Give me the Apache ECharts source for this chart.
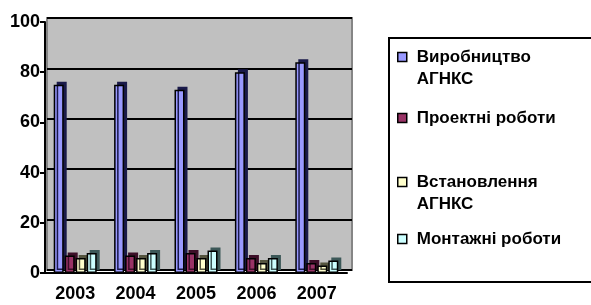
<!DOCTYPE html>
<html>
<head>
<meta charset="utf-8">
<script src="https://cdn.jsdelivr.net/npm/echarts@6/dist/echarts.min.js"></script>
<style>
  html, body { margin: 0; padding: 0; background: #fff; }
  #main { width: 591px; height: 305px; }
</style>
</head>
<body>
<div id="main"></div>
<script>
// дані з діаграми
var years = ['2003', '2004', '2005', '2006', '2007']
var vyrobnytstvo = [75, 75, 73, 80, 84]
var proektni = [7, 7, 8, 6, 4]
var vstanovlennia = [6, 6, 6, 4, 3]
var montazhni = [8, 8, 9, 6, 5]
var names = ['Виробництво АГНКС', 'Проектні роботи', 'Встановлення АГНКС', 'Монтажні роботи']

var font = 'Liberation Sans, Arial, sans-serif'
var colors = ['#9999ff', '#993366', '#ffffcc', '#ccffff']
var sides = ['#1a1a4a', '#3d0f28', '#55553f', '#3c5858']
var values = [vyrobnytstvo, proektni, vstanovlennia, montazhni]
// центри значків легенди
var legendY = [57, 118, 182, 239]

var myChart = echarts.init(document.getElementById('main'))

var legends = names.map(function (n, i) {
  var twoLines = n.indexOf(' АГНКС') > 0
  return {
    data: [n],
    left: 397,
    top: twoLines ? legendY[i] - 33 : legendY[i] - 11,
    padding: 0,
    orient: 'vertical',
    itemWidth: 9,
    itemHeight: 9,
    icon: 'rect',
    selectedMode: false,
    itemStyle: { borderColor: '#000', borderWidth: 1.5 },
    // порожній перший рядок, щоб значок стояв навпроти першого рядка тексту
    formatter: function (name) {
      return name.indexOf(' АГНКС') > 0 ? '\n' + name.replace(' АГНКС', '\nАГНКС') : name
    },
    textStyle: {
      fontFamily: font,
      fontWeight: 'bold',
      fontSize: 17,
      color: '#000',
      lineHeight: 22,
      padding: [0, 0, 0, 5]
    }
  }
})

myChart.setOption({
  animation: false,
  graphic: [
    {
      type: 'rect',
      z: -10,
      shape: { x: 389, y: 38, width: 210, height: 244 },
      style: { fill: '#fff', stroke: '#000', lineWidth: 2 }
    }
  ],
  legend: legends,
  grid: [
    { left: 45, right: 244, top: 22, bottom: 32 },
    {
      left: 47, right: 239, top: 18, bottom: 35,
      show: true, backgroundColor: '#c0c0c0', borderColor: '#858585', borderWidth: 2, z: -1
    }
  ],
  xAxis: [
    {
      type: 'category',
      gridIndex: 0,
      data: years,
      axisLine: { lineStyle: { color: '#000', width: 2 } },
      axisTick: { length: 6, lineStyle: { color: '#000', width: 2 } },
      axisLabel: {
        margin: 12,
        fontFamily: font,
        fontWeight: 'bold',
        fontSize: 18,
        color: '#000'
      }
    },
    { type: 'category', gridIndex: 1, data: years, show: false }
  ],
  yAxis: [
    {
      type: 'value',
      gridIndex: 0,
      min: 0,
      max: 100,
      interval: 20,
      axisLine: { show: true, lineStyle: { color: '#000', width: 2 } },
      axisTick: { show: true, length: 5, lineStyle: { color: '#000', width: 2 } },
      splitLine: { show: false },
      axisLabel: {
        margin: 5,
        fontFamily: font,
        fontWeight: 'bold',
        fontSize: 18,
        color: '#000'
      }
    },
    {
      type: 'value',
      gridIndex: 1,
      min: 0,
      max: 100,
      interval: 20,
      axisLine: { show: false },
      axisTick: { show: false },
      axisLabel: { show: false },
      splitLine: { show: true, lineStyle: { color: '#000', width: 2 } }
    }
  ],
  series: names.map(function (n, i) {
    return {
      name: n,
      type: 'bar',
      xAxisIndex: 0,
      yAxisIndex: 0,
      data: values[i],
      barWidth: 10,
      barGap: '10%',
      itemStyle: {
        color: colors[i],
        borderColor: '#000',
        borderWidth: 1.5,
        shadowColor: sides[i],
        shadowOffsetX: 3,
        shadowOffsetY: -3,
        shadowBlur: 0
      }
    }
  })
})
</script>
</body>
</html>
